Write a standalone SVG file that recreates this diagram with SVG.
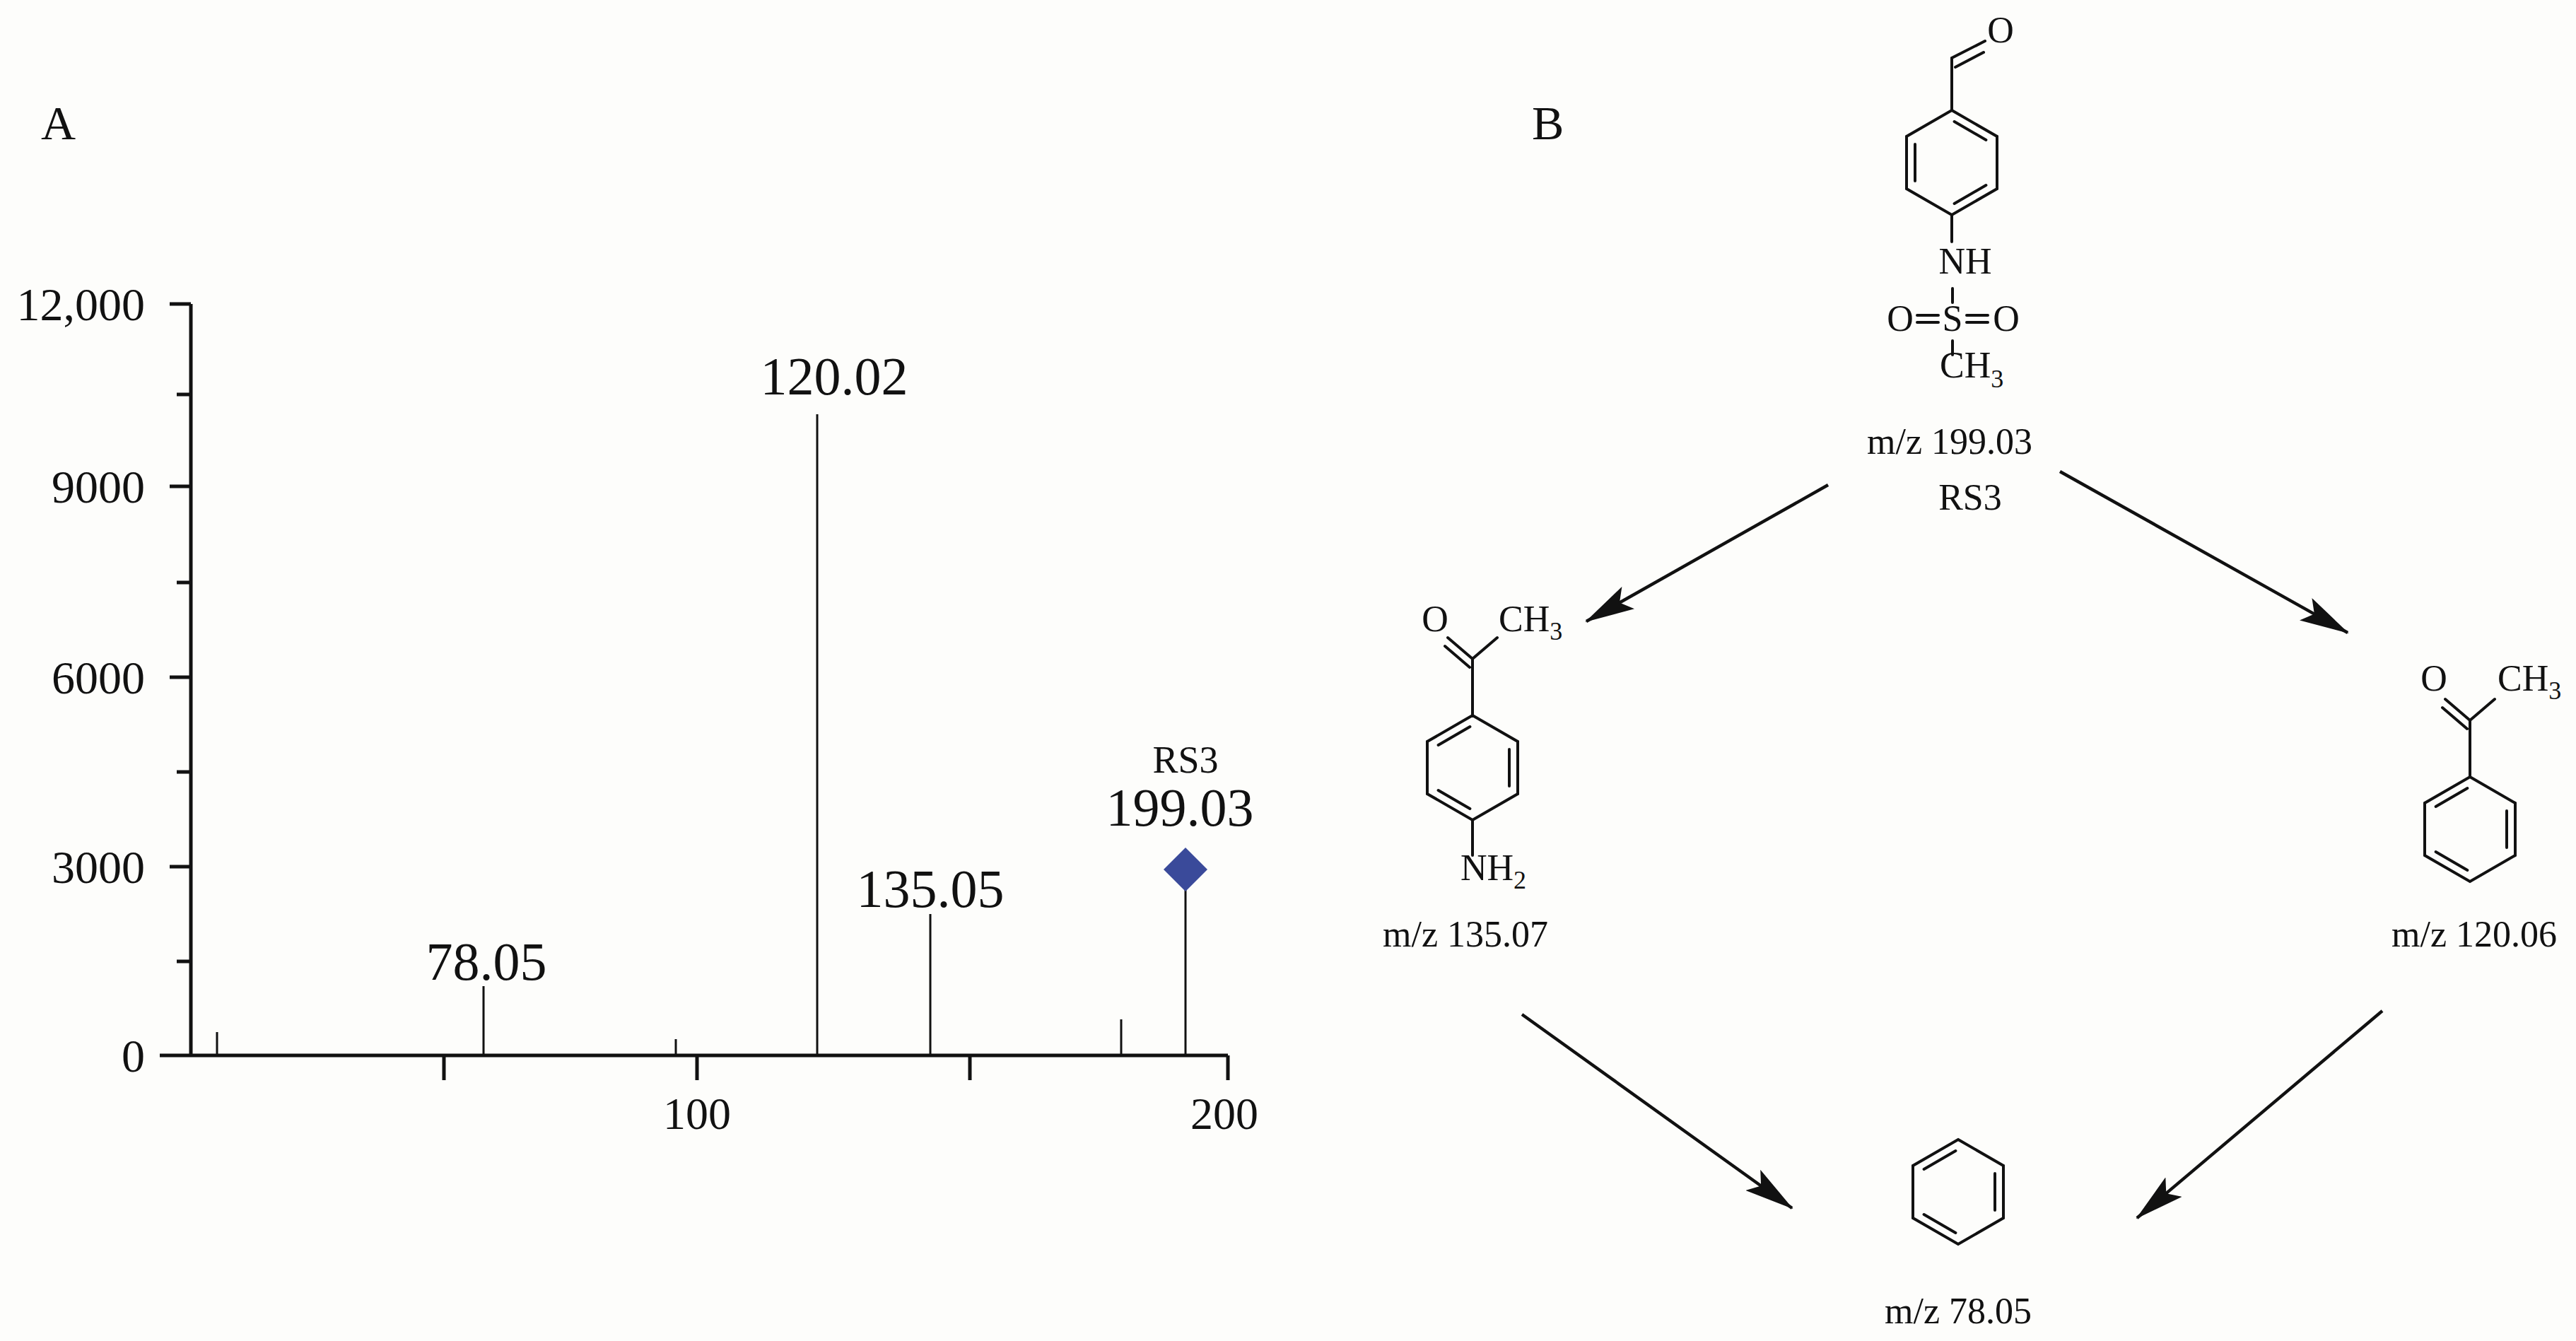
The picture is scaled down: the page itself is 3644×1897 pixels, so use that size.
<svg xmlns="http://www.w3.org/2000/svg" width="3644" height="1897" viewBox="0 0 3644 1897">
<style>
text{font-family:"Liberation Serif",serif;fill:#111}
.ax{stroke:#111;stroke-width:5;fill:none}
.pk{stroke:#111;stroke-width:3;fill:none}
.b{stroke:#111;stroke-width:4;fill:none;stroke-linecap:round}
.ar{stroke:#111;stroke-width:4.5;fill:none}
.yl{font-size:66px;text-anchor:end}
.xl{font-size:64px;text-anchor:middle}
.pl{font-size:76px;text-anchor:middle}
.m{font-size:52px}
</style>
<defs>
<path id="hex" d="M0,-74 L64,-37 L64,37 L0,74 L-64,37 L-64,-37 Z"/>
<path id="dA" d="M3.6,-58 L48.4,-32 M-52,-26 L-52,26 M48.4,32 L3.6,58"/>
<path id="dB" d="M-3.6,-58 L-48.4,-32 M52,-26 L52,26 M-48.4,32 L-3.6,58"/>
<marker id="ah" viewBox="0 0 70 36" refX="68" refY="18" markerWidth="70" markerHeight="36" markerUnits="userSpaceOnUse" orient="auto"><path d="M0,0 L70,18 L0,36 L14,18 Z" fill="#111"/></marker>
</defs>
<rect width="3644" height="1897" fill="#fdfdfb"/>
<g id="chart">
<text x="58" y="197" font-size="68px">A</text>
<path class="ax" d="M270,430 V1493 M226,1493 H1737 M240,430 H270 M240,688 H270 M240,958 H270 M240,1226 H270 M240,1493 H270 M250,558 H270 M250,824 H270 M250,1092 H270 M250,1360 H270 M628,1493 V1528 M986,1493 V1528 M1372,1493 V1528 M1737,1493 V1528"/>
<text class="yl" x="205" y="453">12,000</text>
<text class="yl" x="205" y="711">9000</text>
<text class="yl" x="205" y="981">6000</text>
<text class="yl" x="205" y="1249">3000</text>
<text class="yl" x="205" y="1516">0</text>
<text class="xl" x="986" y="1597">100</text>
<text class="xl" x="1732" y="1597">200</text>
<path class="pk" d="M307,1493 V1460 M684,1493 V1395 M956,1493 V1470 M1156,1493 V586 M1316,1493 V1293 M1586,1493 V1442 M1677,1493 V1240"/>
<path d="M1677,1199 L1708,1230 L1677,1261 L1646,1230 Z" fill="#3a4a9a"/>
<text class="pl" x="1180" y="558">120.02</text>
<text class="pl" x="688" y="1386">78.05</text>
<text class="pl" x="1316" y="1283">135.05</text>
<text class="pl" x="1669" y="1168">199.03</text>
<text x="1677" y="1093" font-size="54px" text-anchor="middle">RS3</text>
</g>
<text x="2167" y="197" font-size="68px">B</text>
<g id="rs3">
<use href="#hex" transform="translate(2761,230)" class="b"/>
<use href="#dA" transform="translate(2761,230)" class="b"/>
<path class="b" d="M2761,156 V82 L2808,58 M2766,95 L2806,74 M2761,304 V342 M2762,408 V428 M2762,482 V502 M2712,446 H2742 M2712,456 H2742 M2782,446 H2812 M2782,456 H2812"/>
<text x="2830" y="60" class="m" text-anchor="middle">O</text>
<text x="2780" y="387" class="m" text-anchor="middle">NH</text>
<text x="2688" y="468" class="m" text-anchor="middle">O</text>
<text x="2762" y="468" class="m" text-anchor="middle">S</text>
<text x="2838" y="468" class="m" text-anchor="middle">O</text>
<text x="2744" y="534" class="m">CH<tspan font-size="36px" dy="14">3</tspan></text>
<text x="2758" y="642" class="m" text-anchor="middle">m/z 199.03</text>
<text x="2787" y="721" class="m" text-anchor="middle">RS3</text>
</g>
<g id="ap135">
<use href="#hex" transform="translate(2083,1086)" class="b"/>
<use href="#dB" transform="translate(2083,1086)" class="b"/>
<path class="b" d="M2083,1012 V932 L2118,902 M2083,932 L2048,902 M2079,944 L2044,914 M2083,1160 V1210"/>
<text x="2030" y="893" class="m" text-anchor="middle">O</text>
<text x="2120" y="893" class="m">CH<tspan font-size="36px" dy="12">3</tspan></text>
<text x="2066" y="1245" class="m">NH<tspan font-size="36px" dy="12">2</tspan></text>
<text x="2073" y="1339" class="m" text-anchor="middle">m/z 135.07</text>
</g>
<g id="ac120">
<use href="#hex" transform="translate(3494,1173)" class="b"/>
<use href="#dB" transform="translate(3494,1173)" class="b"/>
<path class="b" d="M3494,1099 V1019 L3529,989 M3494,1019 L3459,989 M3490,1031 L3455,1001"/>
<text x="3443" y="977" class="m" text-anchor="middle">O</text>
<text x="3533" y="977" class="m">CH<tspan font-size="36px" dy="12">3</tspan></text>
<text x="3500" y="1339" class="m" text-anchor="middle">m/z 120.06</text>
</g>
<g id="bz78">
<use href="#hex" transform="translate(2770,1686)" class="b"/>
<use href="#dB" transform="translate(2770,1686)" class="b"/>
<text x="2770" y="1872" class="m" text-anchor="middle">m/z 78.05</text>
</g>
<g id="connectors">
<line class="ar" x1="2586" y1="686" x2="2244" y2="879" marker-end="url(#ah)"/>
<line class="ar" x1="2914" y1="667" x2="3321" y2="895" marker-end="url(#ah)"/>
<line class="ar" x1="2153" y1="1435" x2="2535" y2="1709" marker-end="url(#ah)"/>
<line class="ar" x1="3370" y1="1430" x2="3023" y2="1723" marker-end="url(#ah)"/>
</g>
</svg>
